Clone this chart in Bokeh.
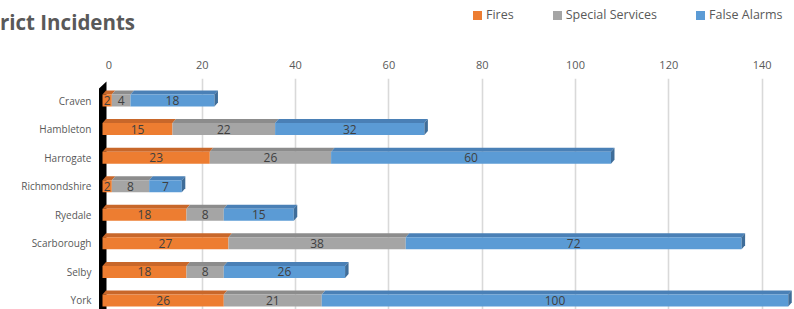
from bokeh.plotting import figure
from bokeh.layouts import column
from bokeh.models import Range1d, FixedTicker, ColumnDataSource, Div
from bokeh.core.properties import value
from bokeh.embed import file_html
from bokeh.resources import INLINE

# ---------------- data ----------------
categories = ["Craven", "Hambleton", "Harrogate", "Richmondshire",
              "Ryedale", "Scarborough", "Selby", "York"]
fires = [2, 15, 23, 2, 18, 27, 18, 26]
special_services = [4, 22, 26, 8, 8, 38, 8, 21]
false_alarms = [18, 32, 60, 7, 15, 72, 26, 100]
series_names = ["Fires", "Special Services", "False Alarms"]
x_ticks = [0, 20, 40, 60, 80, 100, 120, 140]
title_text = "rict Incidents"

# ---------------- style ----------------
FONT = "Open Sans"
front_colors = ["#ED7D31", "#A5A5A5", "#5B9BD5"]
top_colors = ["#C8672A", "#8C8C8C", "#4A80B6"]
side_color = "#3F6D99"

W, H_TOTAL = 794, 309
HEAD_H = 40
H = H_TOTAL - HEAD_H
FRAME_LEFT = 96
FRAME_TOP_PAGE = 78
PX_X = 4.665          # pixels per value unit
PX_Y = 28.57          # pixels per category
X0 = 108.5            # page x of back-plane zero
Y0 = 100.0            # page y of first category centre

x_start = -(X0 - FRAME_LEFT) / PX_X
x_end = x_start + (W - FRAME_LEFT) / PX_X
y_top = -(Y0 - FRAME_TOP_PAGE) / PX_Y
y_bottom = y_top + (H_TOTAL - FRAME_TOP_PAGE) / PX_Y

DX = -6.5 / PX_X       # front face shift relative to back plane
BAR_H = 12.0 / PX_Y     # front face height
DDX = 3.5 / PX_X        # depth of bar (x)
DDY = 4.0 / PX_Y        # depth of bar (y)

# ---------------- header: title + legend ----------------
legend_items = "".join(
    f'<div style="display:flex;align-items:center;gap:4px;">'
    f'<span style="display:inline-block;width:9px;height:9px;background:{c};"></span>'
    f'<span>{nm}</span></div>'
    for nm, c in zip(series_names, front_colors))
head_html = (
    f'<div style="position:relative;width:{W}px;height:{HEAD_H}px;font-family:\'{FONT}\';color:#595959;">'
    f'<div style="position:absolute;left:0px;top:8px;font-size:20.5px;font-weight:bold;'
    f'line-height:28px;white-space:nowrap;">{title_text}</div>'
    f'<div style="position:absolute;left:473px;top:6px;display:flex;align-items:center;gap:39px;'
    f'font-size:12.5px;line-height:18px;white-space:nowrap;">{legend_items}</div>'
    f'</div>')
head = Div(text=head_html, width=W, height=HEAD_H, styles={"margin": "0", "padding": "0"})

# ---------------- main chart ----------------
p = figure(width=W, height=H, output_backend="svg", toolbar_location=None,
           x_range=Range1d(x_start, x_end), y_range=Range1d(y_bottom, y_top),
           x_axis_location="above", min_border_left=FRAME_LEFT,
           min_border_top=FRAME_TOP_PAGE - HEAD_H,
           min_border_right=0, min_border_bottom=0, outline_line_color=None,
           background_fill_color="white", border_fill_color="white")

xa = p.xaxis[0]
xa.ticker = FixedTicker(ticks=x_ticks)
xa.axis_line_color = None
xa.major_tick_line_color = None
xa.minor_tick_line_color = None
xa.major_tick_out = 0
xa.major_tick_in = 0
xa.major_label_text_font = FONT
xa.major_label_text_font_size = "11px"
xa.major_label_text_color = "#595959"
xa.major_label_standoff = 10

ya = p.yaxis[0]
ya.ticker = FixedTicker(ticks=list(range(len(categories))))
ya.major_label_overrides = {i: c for i, c in enumerate(categories)}
ya.axis_line_color = None
ya.major_tick_line_color = None
ya.minor_tick_line_color = None
ya.major_tick_out = 0
ya.major_tick_in = 0
ya.major_label_text_font = FONT
ya.major_label_text_font_size = "10px"
ya.major_label_text_color = "#595959"
ya.major_label_standoff = 5

p.ygrid.visible = False
p.xgrid.ticker = FixedTicker(ticks=x_ticks[1:])
p.xgrid.grid_line_color = "#D9D9D9"
p.xgrid.grid_line_width = 1.6

# black side wall
wl, wr = (98.5 - X0) / PX_X, (106.0 - X0) / PX_X
wy = [y_bottom, (88 - Y0) / PX_Y, (81 - Y0) / PX_Y, y_bottom]
p.patch([wl, wl, wr, wr], wy, fill_color="black", line_color=None)

# stacked 3D bars
series = [fires, special_services, false_alarms]
n = len(categories)
cum = [0] * n
lab_x, lab_y, lab_t = [], [], []
for s, vals in enumerate(series):
    left = [cum[i] + DX for i in range(n)]
    right = [cum[i] + vals[i] + DX for i in range(n)]
    ys = list(range(n))
    src = ColumnDataSource(dict(left=left, right=right,
                                top=[y - BAR_H / 2 for y in ys],
                                bottom=[y + BAR_H / 2 for y in ys]))
    txs = [[l, r, r + DDX, l + DDX] for l, r in zip(left, right)]
    tys = [[y - BAR_H / 2, y - BAR_H / 2, y - BAR_H / 2 - DDY, y - BAR_H / 2 - DDY] for y in ys]
    p.patches(txs, tys, fill_color=top_colors[s], line_color=None)
    p.quad(left="left", right="right", top="top", bottom="bottom", source=src,
           fill_color=front_colors[s], line_color=None)
    for i in range(n):
        lab_x.append((left[i] + right[i]) / 2)
        lab_y.append(i)
        lab_t.append(str(vals[i]))
    cum = [cum[i] + vals[i] for i in range(n)]

ends = [c + DX for c in cum]
sxs = [[e, e + DDX, e + DDX, e] for e in ends]
sys_ = [[y + BAR_H / 2, y + BAR_H / 2 - DDY, y - BAR_H / 2 - DDY, y - BAR_H / 2] for y in range(n)]
p.patches(sxs, sys_, fill_color=side_color, line_color=None)

p.text(x=lab_x, y=lab_y, text=lab_t, text_align="center", text_baseline="middle",
       text_font=value(FONT), text_font_size="12px", text_color="#404040")

layout = column(head, p, spacing=0)
open("out.html", "w").write(file_html(layout, INLINE))
